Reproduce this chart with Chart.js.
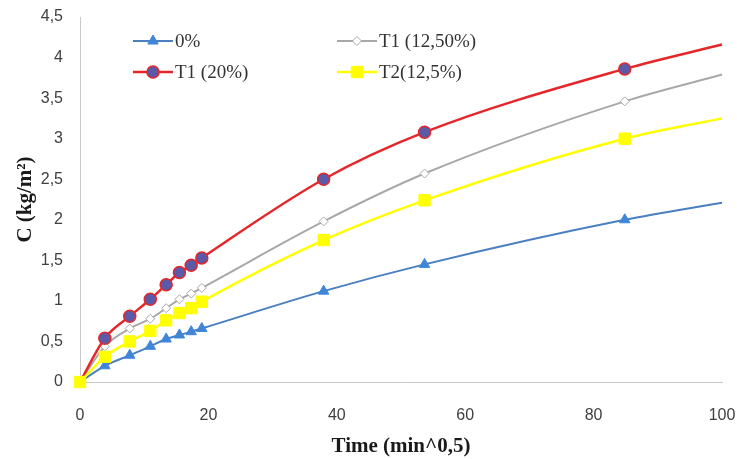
<!DOCTYPE html>
<html>
<head>
<meta charset="utf-8">
<script src="https://cdn.jsdelivr.net/npm/chart.js@4.4.1/dist/chart.umd.min.js"></script>
<style>
  html, body { margin: 0; padding: 0; background: #ffffff; }
  #c { display: block; }
</style>
</head>
<body>
<canvas id="c" width="737" height="459"></canvas>
<script>
// Square root of time (min^0,5) at each measurement
const timeRoot = [0, 3.87, 7.75, 10.95, 13.42, 15.49, 17.32, 18.97, 37.95, 53.67, 84.85, 100];

// Cumulative absorption C (kg/m²) per mix
const series0 = [0, 0.20, 0.33, 0.44, 0.53, 0.58, 0.62, 0.66, 1.12, 1.45, 2.00, 2.21];
const seriesT1_125 = [0, 0.44, 0.66, 0.78, 0.91, 1.02, 1.09, 1.16, 1.98, 2.57, 3.46, 3.79];
const seriesT1_20 = [0, 0.54, 0.81, 1.02, 1.20, 1.35, 1.44, 1.53, 2.50, 3.08, 3.86, 4.16];
const seriesT2_125 = [0, 0.31, 0.50, 0.63, 0.76, 0.85, 0.91, 0.99, 1.75, 2.24, 3.00, 3.25];

const seriesNames = ['0%', 'T1 (12,50%)', 'T1 (20%)', 'T2(12,5%)'];

// Axis ticks
const xTicks = [0, 20, 40, 60, 80, 100];
const yTicks = [0, 0.5, 1, 1.5, 2, 2.5, 3, 3.5, 4, 4.5];

const pts = vals => vals.map((v, i) => ({ x: timeRoot[i], y: v }));
const lastIdx = timeRoot.length - 1;
// the trend line continues to the axis end without a marker
const lastHidden = r => ctx => (ctx.dataIndex === lastIdx ? 0 : r);
// markers hidden under the yellow square at the shared origin
const underOrigin = r => ctx => (ctx.dataIndex === lastIdx || ctx.dataIndex === 0 ? 0 : r);

const datasets = [
  {
    label: seriesNames[0], data: pts(series0),
    borderColor: '#4a7fc0', borderWidth: 2,
    pointStyle: 'triangle', pointRadius: underOrigin(6), legendRadius: 6,
    pointBackgroundColor: '#3f86d8', pointBorderColor: '#3f86d8', pointBorderWidth: 1,
    clip: false, order: 3
  },
  {
    label: seriesNames[1], data: pts(seriesT1_125),
    borderColor: '#a8a8a8', borderWidth: 2,
    pointStyle: 'rectRot', pointRadius: underOrigin(4.5), legendRadius: 4.5,
    pointBackgroundColor: '#ffffff', pointBorderColor: '#a8a8a8', pointBorderWidth: 1,
    clip: false, order: 2
  },
  {
    label: seriesNames[2], data: pts(seriesT1_20),
    borderColor: '#e5262a', borderWidth: 2.5,
    pointStyle: 'circle', pointRadius: underOrigin(6), legendRadius: 6,
    pointBackgroundColor: '#5a5aa8', pointBorderColor: '#e5262a', pointBorderWidth: 1.5,
    clip: false, order: 1
  },
  {
    label: seriesNames[3], data: pts(seriesT2_125),
    borderColor: '#ffff00', borderWidth: 2.5,
    pointStyle: 'rect', pointRadius: lastHidden(8), legendRadius: 8,
    pointBackgroundColor: '#ffff00', pointBorderColor: '#ffff00', pointBorderWidth: 1,
    clip: false, order: 0
  }
];

// Two-column legend drawn inside the plot area
const insideLegend = {
  id: 'insideLegend',
  afterDraw(chart) {
    const { ctx } = chart;
    const slots = [
      { ds: 0, x: 133, y: 41 },
      { ds: 1, x: 337, y: 41 },
      { ds: 2, x: 133, y: 72 },
      { ds: 3, x: 337, y: 72 }
    ];
    ctx.save();
    slots.forEach(s => {
      const d = chart.data.datasets[s.ds];
      ctx.strokeStyle = d.borderColor;
      ctx.lineWidth = d.borderWidth;
      ctx.beginPath();
      ctx.moveTo(s.x, s.y);
      ctx.lineTo(s.x + 40, s.y);
      ctx.stroke();
      ctx.fillStyle = d.pointBackgroundColor;
      ctx.strokeStyle = d.pointBorderColor;
      ctx.lineWidth = d.pointBorderWidth;
      Chart.helpers.drawPoint(ctx, { pointStyle: d.pointStyle, radius: d.legendRadius, rotation: 0, borderWidth: d.pointBorderWidth }, s.x + 20, s.y);
      ctx.fillStyle = '#333333';
      ctx.font = '19px "Liberation Serif", "Times New Roman", serif';
      ctx.textBaseline = 'middle';
      ctx.textAlign = 'left';
      ctx.fillText(d.label, s.x + 42, s.y + 1);
    });
    ctx.restore();
  }
};

new Chart(document.getElementById('c'), {
  type: 'line',
  data: { datasets },
  plugins: [insideLegend],
  options: {
    responsive: false,
    devicePixelRatio: 1,
    animation: false,
    layout: { padding: { top: 17, right: 15, bottom: 0, left: 0 } },
    elements: {
      line: { cubicInterpolationMode: 'monotone', fill: false }
    },
    plugins: { legend: { display: false }, tooltip: { enabled: false } },
    scales: {
      x: {
        type: 'linear', min: 0, max: 100,
        afterBuildTicks: s => { s.ticks = xTicks.map(v => ({ value: v })); },
        afterFit: s => { s.height = 77; s.paddingLeft = 0; s.paddingRight = 0; },
        grid: { display: false, drawTicks: false, tickLength: 0 },
        border: { display: true, color: '#c8c8c8', width: 1 },
        ticks: {
          padding: 24, color: '#404040',
          font: { family: '"Liberation Sans", Arial, sans-serif', size: 16 },
          maxRotation: 0
        },
        title: {
          display: true, text: 'Time (min^0,5)', color: '#1a1a1a',
          font: { family: '"Liberation Serif", "Times New Roman", serif', size: 21, weight: 'bold' },
          padding: { top: 0, bottom: 0 }
        }
      },
      y: {
        type: 'linear', min: 0, max: 4.5,
        afterBuildTicks: s => { s.ticks = yTicks.map(v => ({ value: v })); },
        afterFit: s => { s.width = 80; s.paddingTop = 0; s.paddingBottom = 0; },
        grid: { display: false, drawTicks: false, tickLength: 0 },
        border: { display: true, color: '#c8c8c8', width: 1 },
        ticks: {
          padding: 17, color: '#404040',
          font: { family: '"Liberation Sans", Arial, sans-serif', size: 16 },
          callback: v => String(v).replace('.', ',')
        },
        title: {
          display: true, text: 'C (kg/m²)', color: '#1a1a1a',
          font: { family: '"Liberation Serif", "Times New Roman", serif', size: 21, weight: 'bold' },
          padding: { top: 13, bottom: 0 }
        }
      }
    }
  }
});
</script>
</body>
</html>
